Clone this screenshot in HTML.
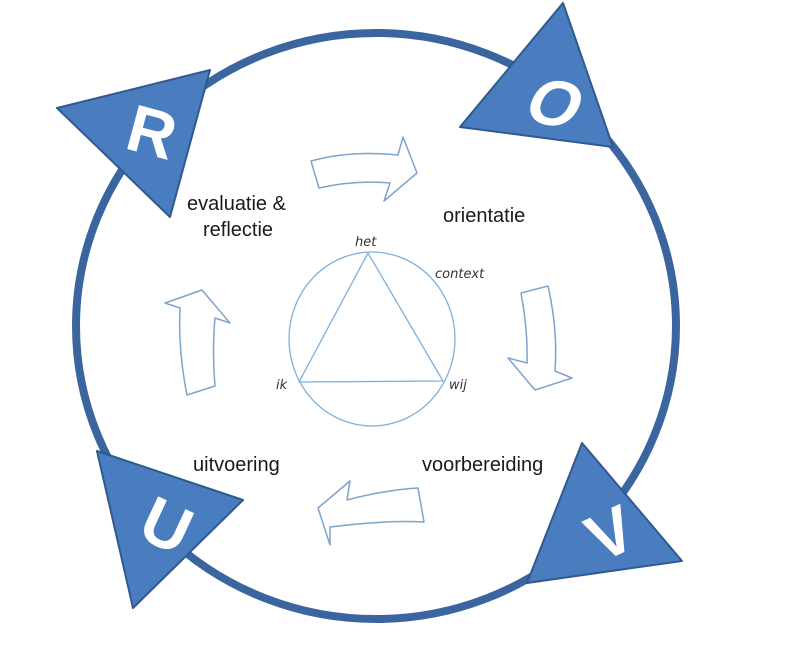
<!DOCTYPE html>
<html><head><meta charset="utf-8"><style>
html,body{margin:0;padding:0;background:#fff;width:799px;height:666px;overflow:hidden}
svg{display:block}
.lbl{font-family:"Liberation Sans",sans-serif;font-size:20px;fill:#1a1a1a}
.hw{font-family:"DejaVu Sans","Liberation Sans",sans-serif;font-style:italic;font-size:13px;fill:#333}
.big{font-family:"Liberation Sans",sans-serif;font-weight:bold;fill:#fff;font-size:66px}
</style></head><body>
<svg width="799" height="666" viewBox="0 0 799 666" xmlns="http://www.w3.org/2000/svg">
<ellipse cx="376" cy="326" rx="300" ry="293" fill="none" stroke="#3b659e" stroke-width="8"/>
<g fill="#4a7dc0" stroke="#30598f" stroke-width="2" stroke-linejoin="round">
<polygon points="57,108 210,70 170,217"/>
<polygon points="563,3 613,147 460,127"/>
<polygon points="97,451 243,500 133,608"/>
<polygon points="582,443 682,561 527,583"/>
</g>
<text class="big" x="0" y="0" text-anchor="middle" transform="translate(146,154) rotate(15)">R</text>
<text class="big" x="0" y="0" text-anchor="middle" transform="translate(545,124) rotate(15) skewX(-12)">O</text>
<text class="big" x="0" y="0" text-anchor="middle" transform="translate(157,546) rotate(25)">U</text>
<text class="big" x="0" y="0" text-anchor="middle" transform="translate(620,554) rotate(-25)">V</text>
<g fill="#fff" stroke="#7fa3cc" stroke-width="1.5" stroke-linejoin="round">
<path d="M311,161 Q350,150 398,155 L403,137 L417,173 L384,201 L390,183 Q355,180 319,188 Z"/>
<path d="M521,293 L548,286 Q558,330 555,371 L572,378 L535,390 L508,358 L527,363 Q528,330 521,293 Z"/>
<path d="M424,522 Q385,520 330,527 L330,545 L318,508 L350,481 L347,500 Q385,490 418,488 Z"/>
<path d="M187,395 Q178,350 180,308 L165,303 L202,290 L230,323 L215,318 Q212,350 215,386 Z"/>
</g>
<g fill="none" stroke="#7fb0dc" stroke-width="1.3">
<ellipse cx="372" cy="339" rx="83" ry="87"/>
<polygon points="368,253 299,382 443,381"/>
</g>
<text class="lbl" x="187" y="210">evaluatie &amp;</text>
<text class="lbl" x="203" y="236">reflectie</text>
<text class="lbl" x="443" y="222">orientatie</text>
<text class="lbl" x="193" y="471">uitvoering</text>
<text class="lbl" x="422" y="471">voorbereiding</text>
<text class="hw" x="355" y="246">het</text>
<text class="hw" x="435" y="278">context</text>
<text class="hw" x="276" y="389">ik</text>
<text class="hw" x="449" y="389">wij</text>
</svg>
</body></html>
